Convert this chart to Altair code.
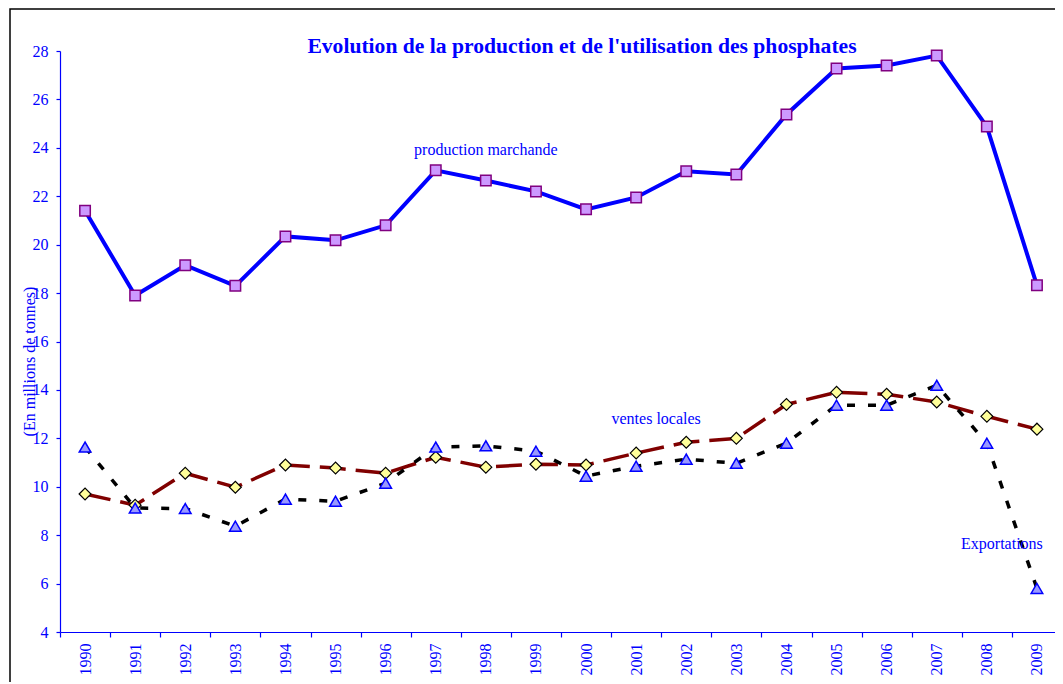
import altair as alt
import pandas as pd

years = [str(y) for y in range(1990, 2010)]
production = [21.4, 17.9, 19.15, 18.3, 20.34, 20.18, 20.8, 23.07, 22.65, 22.2,
              21.46, 21.95, 23.03, 22.9, 25.38, 27.28, 27.4, 27.81, 24.88, 18.32]
ventes = [9.7, 9.24, 10.56, 9.98, 10.9, 10.77, 10.56, 11.22, 10.81, 10.93,
          10.9, 11.39, 11.84, 12.0, 13.4, 13.9, 13.82, 13.5, 12.91, 12.38]
exports = [11.64, 9.12, 9.1, 8.37, 9.49, 9.4, 10.15, 11.64, 11.69, 11.47,
           10.44, 10.85, 11.14, 10.97, 11.8, 13.37, 13.37, 14.19, 11.8, 5.8]

labels = ["production marchande", "ventes locales", "Exportations"]
label_years = ["1998", "2001", "2009"]
label_values = [23.9, 12.8, 7.63]

title_text = "Evolution de la production et de l'utilisation des phosphates"

df = pd.DataFrame({"year": years, "production": production,
                   "ventes": ventes, "exports": exports})

FONT = "Liberation Serif"
BLUE = "#0000FF"

x = alt.X("year:O", title=None, sort=years,
          scale=alt.Scale(paddingInner=0, paddingOuter=0),
          axis=alt.Axis(tickBand="extent", labelAngle=-90, domainColor=BLUE,
                        tickColor=BLUE, labelColor=BLUE, labelFont=FONT,
                        labelFontSize=16, tickSize=5, labelPadding=6,
                        domainWidth=1.2, tickWidth=1.2, grid=False))
yscale = alt.Scale(domain=[4, 28], nice=False, zero=False)
yaxis = alt.Axis(values=list(range(4, 29, 2)), grid=False, domainColor=BLUE,
                 tickColor=BLUE, labelColor=BLUE, labelFont=FONT,
                 labelFontSize=16, tickSize=4, labelPadding=8,
                 domainWidth=1.2, tickWidth=1.2,
                 title="(En millions de tonnes)", titleFont=FONT,
                 titleFontSize=16, titleFontWeight="normal", titleColor=BLUE,
                 titleX=-31, titleY=310, titleAngle=-90, titleBaseline="middle")

base = alt.Chart(df)

frame = base.mark_rect(fillOpacity=0, stroke="black", strokeWidth=1.5).encode(
    x=alt.value(-50), x2=alt.value(1100), y=alt.value(-42), y2=alt.value(720)
).transform_filter(alt.datum.year == "1990")

title = alt.Chart(pd.DataFrame({"t": [title_text]})).mark_text(
    font=FONT, fontSize=21.6, fontWeight="bold", color=BLUE,
    align="center", baseline="alphabetic").encode(
    text="t:N", x=alt.value(522), y=alt.value(2))

prod_line = base.mark_line(color=BLUE, strokeWidth=4).encode(
    x=x, y=alt.Y("production:Q", scale=yscale, axis=yaxis))
prod_pts = base.mark_point(shape="square", filled=True, fill="#CC99FF",
                           stroke="#800080", strokeWidth=1.5, size=110,
                           opacity=1).encode(x=x, y="production:Q")

ventes_line = base.mark_line(color="#800000", strokeWidth=3.5,
                             strokeDash=[26, 10]).encode(x=x, y="ventes:Q")
ventes_pts = base.mark_point(shape="diamond", filled=True, fill="#FFFF99",
                             stroke="black", strokeWidth=1.2, size=140,
                             opacity=1).encode(x=x, y="ventes:Q")

exp_line = base.mark_line(color="black", strokeWidth=3.5,
                          strokeDash=[8, 13]).encode(x=x, y="exports:Q")
exp_pts = base.mark_point(shape="triangle-up", filled=True, fill="#9999FF",
                          stroke=BLUE, strokeWidth=1.5, size=135,
                          opacity=1).encode(x=x, y="exports:Q")

ann = pd.DataFrame({"label": labels, "year": label_years, "value": label_values})
offsets = [0, 20, -35]
texts = []
for i in range(3):
    texts.append(
        alt.Chart(ann.iloc[[i]]).mark_text(font=FONT, fontSize=16, color=BLUE,
                                           dx=offsets[i], baseline="middle")
        .encode(x=alt.X("year:O", sort=years), y="value:Q", text="label:N"))

chart = alt.layer(frame, title, prod_line, prod_pts, ventes_line, exp_line,
                  ventes_pts, exp_pts, *texts).properties(
    width=1002, height=581, background="white",
    autosize=alt.AutoSizeParams(type="none"),
    padding={"left": 52, "top": 43, "right": -7, "bottom": 50},
).configure_view(strokeWidth=0, stroke="transparent").configure_axis(grid=False)

chart.save("out.html", embed_options={"renderer": "svg", "actions": False})
